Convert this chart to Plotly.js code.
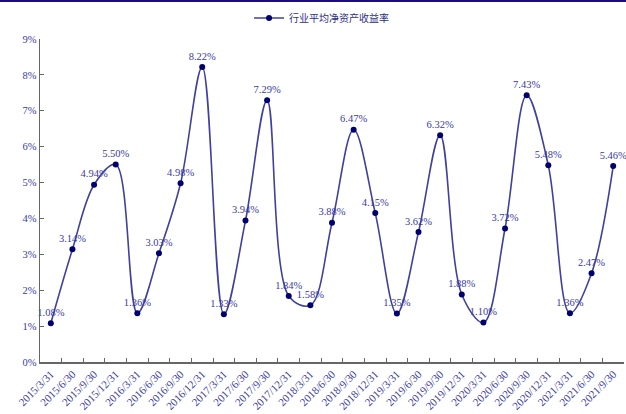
<!DOCTYPE html>
<html>
<head>
<meta charset="utf-8">
<script src="https://cdn.plot.ly/plotly-3.0.1.min.js"></script>
<style>
html,body{margin:0;padding:0;background:#fff;}
#chart{width:626px;height:414px;}
</style>
</head>
<body>
<div id="chart"></div>
<script>
const categories = ["2015/3/31","2015/6/30","2015/9/30","2015/12/31","2016/3/31","2016/6/30","2016/9/30","2016/12/31","2017/3/31","2017/6/30","2017/9/30","2017/12/31","2018/3/31","2018/6/30","2018/9/30","2018/12/31","2019/3/31","2019/6/30","2019/9/30","2019/12/31","2020/3/31","2020/6/30","2020/9/30","2020/12/31","2021/3/31","2021/6/30","2021/9/30"];
const roeValues = [1.08,3.14,4.94,5.50,1.36,3.03,4.98,8.22,1.33,3.94,7.29,1.84,1.58,3.88,6.47,4.15,1.35,3.62,6.32,1.88,1.10,3.72,7.43,5.48,1.36,2.47,5.46];
const seriesName = "行业平均净资产收益率";
const yTicks = [0,1,2,3,4,5,6,7,8,9];

const labelColor = "#3a3aa2";
const serif = "Liberation Serif";

const trace = {
  x: categories,
  y: roeValues,
  name: seriesName,
  type: "scatter",
  mode: "lines+markers+text",
  line: {shape: "spline", smoothing: 1.0, color: "#40409e", width: 1.6},
  marker: {color: "#000070", size: 6},
  text: roeValues.map(v => v.toFixed(2) + "%"),
  textposition: "top center",
  textfont: {family: serif, size: 10.5, color: labelColor},
  cliponaxis: false,
  hoverinfo: "x+y"
};

const layout = {
  width: 626,
  height: 414,
  margin: {l: 40, r: 2, t: 39, b: 52, autoexpand: false},
  paper_bgcolor: "#ffffff",
  plot_bgcolor: "#ffffff",
  showlegend: true,
  legend: {
    orientation: "h",
    x: 0.358, xanchor: "left",
    y: 1.065, yanchor: "middle",
    font: {family: "Noto Sans CJK SC", size: 10, color: "#2e2e86"},
    bgcolor: "rgba(0,0,0,0)",
    itemwidth: 30
  },
  xaxis: {
    type: "category",
    range: [-0.5, categories.length - 0.5],
    tickangle: -45,
    tickson: "boundaries",
    ticks: "inside",
    ticklen: 4,
    tickcolor: "#666",
    showline: true,
    linecolor: "#666",
    linewidth: 1.5,
    showgrid: false,
    zeroline: false,
    tickfont: {family: serif, size: 11, color: labelColor},
    fixedrange: true
  },
  yaxis: {
    range: [0, 9],
    tickvals: yTicks,
    ticktext: yTicks.map(v => v + "%"),
    ticks: "inside",
    ticklen: 4,
    tickcolor: "#666",
    showline: true,
    linecolor: "#666",
    linewidth: 1.5,
    showgrid: false,
    zeroline: false,
    tickfont: {family: serif, size: 10.5, color: labelColor},
    fixedrange: true
  },
  shapes: [{
    type: "rect",
    xref: "paper", yref: "paper",
    x0: -40/584, x1: 1 + 2/584,
    y0: 1 + 37/323, y1: 1 + 39/323,
    fillcolor: "#1c0c80",
    line: {width: 0}
  }]
};

Plotly.newPlot("chart", [trace], layout, {displayModeBar: false, staticPlot: true});
</script>
</body>
</html>
